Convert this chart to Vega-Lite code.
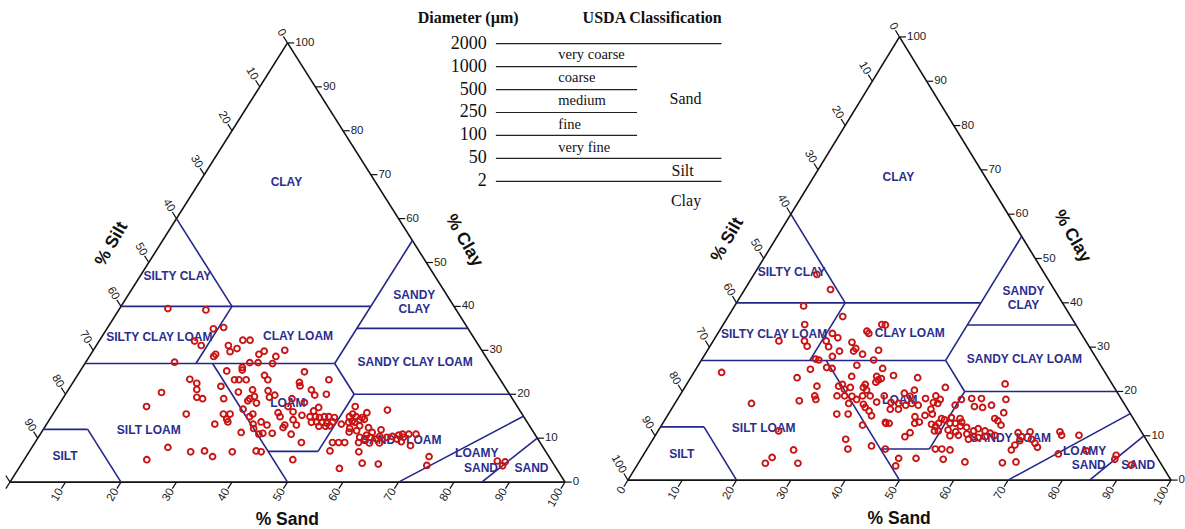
{
  "$schema": "https://vega.github.io/schema/vega-lite/v6.json",
  "width": 1185,
  "height": 529,
  "padding": 0,
  "autosize": {"type": "fit", "contains": "padding"},
  "config": {"view": {"stroke": null}},
  "datasets": {
    "edges": [
      {"s1": 0, "c1": 0, "s2": 100, "c2": 0, "kind": "frame"},
      {"s1": 100, "c1": 0, "s2": 0, "c2": 100, "kind": "frame"},
      {"s1": 0, "c1": 100, "s2": 0, "c2": 0, "kind": "frame"},
      {"s1": 0, "c1": 60, "s2": 20, "c2": 40, "kind": "boundary"},
      {"s1": 0, "c1": 40, "s2": 45, "c2": 40, "kind": "boundary"},
      {"s1": 45, "c1": 55, "s2": 45, "c2": 27, "kind": "boundary"},
      {"s1": 45, "c1": 35, "s2": 65, "c2": 35, "kind": "boundary"},
      {"s1": 0, "c1": 27, "s2": 45, "c2": 27, "kind": "boundary"},
      {"s1": 20, "c1": 40, "s2": 20, "c2": 27, "kind": "boundary"},
      {"s1": 52, "c1": 20, "s2": 80, "c2": 20, "kind": "boundary"},
      {"s1": 45, "c1": 27, "s2": 52, "c2": 20, "kind": "boundary"},
      {"s1": 52, "c1": 20, "s2": 52, "c2": 7, "kind": "boundary"},
      {"s1": 43, "c1": 7, "s2": 52, "c2": 7, "kind": "boundary"},
      {"s1": 23, "c1": 27, "s2": 50, "c2": 0, "kind": "boundary"},
      {"s1": 0, "c1": 12, "s2": 8, "c2": 12, "kind": "boundary"},
      {"s1": 8, "c1": 12, "s2": 20, "c2": 0, "kind": "boundary"},
      {"s1": 70, "c1": 0, "s2": 85, "c2": 15, "kind": "boundary"},
      {"s1": 85, "c1": 0, "s2": 90, "c2": 10, "kind": "boundary"}
    ],
    "ticks": [
      {"axis": "sand", "v": 0}, {"axis": "sand", "v": 10}, {"axis": "sand", "v": 20}, {"axis": "sand", "v": 30},
      {"axis": "sand", "v": 40}, {"axis": "sand", "v": 50}, {"axis": "sand", "v": 60}, {"axis": "sand", "v": 70},
      {"axis": "sand", "v": 80}, {"axis": "sand", "v": 90}, {"axis": "sand", "v": 100},
      {"axis": "silt", "v": 0}, {"axis": "silt", "v": 10}, {"axis": "silt", "v": 20}, {"axis": "silt", "v": 30},
      {"axis": "silt", "v": 40}, {"axis": "silt", "v": 50}, {"axis": "silt", "v": 60}, {"axis": "silt", "v": 70},
      {"axis": "silt", "v": 80}, {"axis": "silt", "v": 90}, {"axis": "silt", "v": 100},
      {"axis": "clay", "v": 0}, {"axis": "clay", "v": 10}, {"axis": "clay", "v": 20}, {"axis": "clay", "v": 30},
      {"axis": "clay", "v": 40}, {"axis": "clay", "v": 50}, {"axis": "clay", "v": 60}, {"axis": "clay", "v": 70},
      {"axis": "clay", "v": 80}, {"axis": "clay", "v": 90}, {"axis": "clay", "v": 100}
    ],
    "regions": [
      {"label": "CLAY", "sand": 15.6, "clay": 68.4},
      {"label": "SILTY CLAY", "sand": 6.7, "clay": 46.9},
      {"label": "SANDY", "sand": 51.5, "clay": 42.7},
      {"label": "CLAY", "sand": 53.1, "clay": 39.5},
      {"label": "SILTY CLAY LOAM", "sand": 10.4, "clay": 33.0},
      {"label": "CLAY LOAM", "sand": 35.3, "clay": 33.2},
      {"label": "SANDY CLAY LOAM", "sand": 59.3, "clay": 27.4},
      {"label": "LOAM", "sand": 41.0, "clay": 18.1},
      {"label": "SILT LOAM", "sand": 19.1, "clay": 11.8},
      {"label": "SILT", "sand": 6.9, "clay": 6.0},
      {"label": "SANDY LOAM", "sand": 65.7, "clay": 9.6},
      {"label": "LOAMY", "sand": 80.8, "clay": 6.6},
      {"label": "SAND", "sand": 83.2, "clay": 3.3},
      {"label": "SAND", "sand": 92.3, "clay": 3.3}
    ],
    "titles": [
      {"axis": "sand", "label": "% Sand", "sand": 54.3, "clay": -8.7},
      {"axis": "silt", "label": "% Silt", "sand": -8.8, "clay": 54.2},
      {"axis": "clay", "label": "% Clay", "sand": 54.3, "clay": 55.0}
    ],
    "soilA": [
      {"sand": 8.7, "clay": 39.5}, {"sand": 15.7, "clay": 39.2}, {"sand": 19.2, "clay": 34.9}, {"sand": 20.9, "clay": 35.2},
      {"sand": 17.2, "clay": 32.1}, {"sand": 18.9, "clay": 31.1}, {"sand": 23.8, "clay": 31.1}, {"sand": 25.8, "clay": 32.3},
      {"sand": 27.1, "clay": 32.3}, {"sand": 24.8, "clay": 29.7}, {"sand": 25.7, "clay": 30.4}, {"sand": 30.9, "clay": 29.8},
      {"sand": 30.3, "clay": 29.1}, {"sand": 34.5, "clay": 30.0}, {"sand": 22.4, "clay": 28.6}, {"sand": 22.5, "clay": 29.1},
      {"sand": 33.6, "clay": 28.6}, {"sand": 16.0, "clay": 27.3}, {"sand": 29.6, "clay": 27.2}, {"sand": 31.1, "clay": 27.2},
      {"sand": 33.8, "clay": 27.0}, {"sand": 28.8, "clay": 26.1}, {"sand": 29.1, "clay": 25.5}, {"sand": 26.4, "clay": 25.3},
      {"sand": 20.7, "clay": 23.4}, {"sand": 22.4, "clay": 22.5}, {"sand": 28.8, "clay": 23.3}, {"sand": 29.6, "clay": 23.3},
      {"sand": 30.9, "clay": 23.3}, {"sand": 33.7, "clay": 24.3}, {"sand": 34.8, "clay": 23.3}, {"sand": 27.1, "clay": 21.8},
      {"sand": 23.1, "clay": 21.1}, {"sand": 30.9, "clay": 20.5}, {"sand": 33.2, "clay": 21.0}, {"sand": 36.1, "clay": 20.8},
      {"sand": 17.1, "clay": 20.4}, {"sand": 24.0, "clay": 19.3}, {"sand": 25.2, "clay": 19.0}, {"sand": 29.0, "clay": 19.0},
      {"sand": 33.7, "clay": 19.0}, {"sand": 34.3, "clay": 19.5}, {"sand": 37.1, "clay": 19.3}, {"sand": 37.8, "clay": 19.8},
      {"sand": 33.6, "clay": 18.5}, {"sand": 35.4, "clay": 18.0}, {"sand": 16.0, "clay": 17.2}, {"sand": 33.7, "clay": 16.6},
      {"sand": 24.0, "clay": 15.5}, {"sand": 30.7, "clay": 15.5}, {"sand": 31.9, "clay": 15.5}, {"sand": 31.9, "clay": 14.3},
      {"sand": 32.4, "clay": 13.7}, {"sand": 35.7, "clay": 14.9}, {"sand": 36.0, "clay": 15.5}, {"sand": 40.4, "clay": 15.8},
      {"sand": 41.2, "clay": 14.9}, {"sand": 30.3, "clay": 13.2}, {"sand": 37.2, "clay": 13.2}, {"sand": 38.4, "clay": 13.7},
      {"sand": 39.8, "clay": 13.0}, {"sand": 43.0, "clay": 12.4}, {"sand": 43.0, "clay": 13.0}, {"sand": 36.0, "clay": 11.3},
      {"sand": 37.8, "clay": 12.2}, {"sand": 39.4, "clay": 10.9}, {"sand": 40.0, "clay": 11.1}, {"sand": 41.7, "clay": 11.1},
      {"sand": 24.5, "clay": 7.9}, {"sand": 29.1, "clay": 6.9}, {"sand": 31.5, "clay": 7.1}, {"sand": 33.6, "clay": 5.8},
      {"sand": 36.6, "clay": 6.9}, {"sand": 40.8, "clay": 7.1}, {"sand": 41.8, "clay": 6.9}, {"sand": 22.1, "clay": 5.1},
      {"sand": 48.4, "clay": 5.1},
      {"sand": 40.5, "clay": 25.1}, {"sand": 45.8, "clay": 23.3}, {"sand": 40.8, "clay": 22.7}, {"sand": 41.3, "clay": 21.9},
      {"sand": 43.8, "clay": 21.0}, {"sand": 45.0, "clay": 19.8}, {"sand": 47.0, "clay": 20.0}, {"sand": 41.3, "clay": 19.0},
      {"sand": 41.5, "clay": 17.2}, {"sand": 44.0, "clay": 18.1}, {"sand": 47.1, "clay": 17.0}, {"sand": 46.6, "clay": 16.2},
      {"sand": 43.0, "clay": 16.0}, {"sand": 45.0, "clay": 15.2}, {"sand": 46.6, "clay": 14.9}, {"sand": 47.6, "clay": 14.9},
      {"sand": 48.4, "clay": 14.7}, {"sand": 49.2, "clay": 14.9}, {"sand": 50.0, "clay": 14.9}, {"sand": 51.1, "clay": 14.7},
      {"sand": 47.5, "clay": 13.6}, {"sand": 48.4, "clay": 13.7}, {"sand": 49.4, "clay": 13.6}, {"sand": 50.4, "clay": 13.4},
      {"sand": 51.3, "clay": 13.7}, {"sand": 49.3, "clay": 12.7}, {"sand": 50.5, "clay": 12.7}, {"sand": 51.2, "clay": 12.8},
      {"sand": 53.1, "clay": 13.2}, {"sand": 43.9, "clay": 14.2}, {"sand": 45.1, "clay": 13.0}, {"sand": 45.2, "clay": 10.9},
      {"sand": 48.0, "clay": 9.0}, {"sand": 53.6, "clay": 17.2}, {"sand": 56.4, "clay": 15.8}, {"sand": 56.1, "clay": 14.7},
      {"sand": 59.8, "clay": 16.4}, {"sand": 53.7, "clay": 14.9}, {"sand": 54.0, "clay": 15.5}, {"sand": 54.9, "clay": 14.9},
      {"sand": 54.7, "clay": 13.9}, {"sand": 54.2, "clay": 13.6}, {"sand": 55.3, "clay": 13.6}, {"sand": 55.9, "clay": 14.2},
      {"sand": 56.7, "clay": 14.3}, {"sand": 56.6, "clay": 12.8}, {"sand": 55.1, "clay": 12.2}, {"sand": 58.4, "clay": 12.4},
      {"sand": 55.4, "clay": 11.4}, {"sand": 56.6, "clay": 11.7}, {"sand": 58.9, "clay": 10.7}, {"sand": 59.6, "clay": 11.3},
      {"sand": 60.9, "clay": 11.9}, {"sand": 57.9, "clay": 10.2}, {"sand": 59.0, "clay": 9.8}, {"sand": 59.8, "clay": 10.2},
      {"sand": 61.1, "clay": 9.8}, {"sand": 61.4, "clay": 10.4}, {"sand": 62.8, "clay": 10.2}, {"sand": 63.7, "clay": 10.4},
      {"sand": 64.7, "clay": 10.7}, {"sand": 65.3, "clay": 10.9}, {"sand": 66.4, "clay": 10.9}, {"sand": 67.7, "clay": 10.9},
      {"sand": 64.8, "clay": 9.8}, {"sand": 65.8, "clay": 10.2}, {"sand": 53.6, "clay": 9.0}, {"sand": 54.7, "clay": 9.0},
      {"sand": 55.8, "clay": 9.0}, {"sand": 58.3, "clay": 9.0}, {"sand": 60.3, "clay": 8.9}, {"sand": 62.1, "clay": 8.9},
      {"sand": 65.9, "clay": 9.2}, {"sand": 68.0, "clay": 8.3}, {"sand": 54.1, "clay": 7.1}, {"sand": 59.4, "clay": 6.9},
      {"sand": 57.8, "clay": 3.1}, {"sand": 61.3, "clay": 4.3}, {"sand": 64.3, "clay": 4.1}, {"sand": 72.6, "clay": 5.8},
      {"sand": 73.2, "clay": 3.8}, {"sand": 85.4, "clay": 4.8}, {"sand": 86.9, "clay": 4.6}, {"sand": 86.9, "clay": 3.7}
    ],
    "soilB": [
      {"sand": 11.6, "clay": 46.4}, {"sand": 15.8, "clay": 43.0}, {"sand": 12.7, "clay": 39.3}, {"sand": 21.1, "clay": 36.9},
      {"sand": 15.0, "clay": 35.1}, {"sand": 12.1, "clay": 31.4}, {"sand": 16.8, "clay": 31.4}, {"sand": 17.9, "clay": 30.2},
      {"sand": 21.1, "clay": 33.1}, {"sand": 22.6, "clay": 32.1}, {"sand": 20.8, "clay": 31.4}, {"sand": 21.9, "clay": 30.1},
      {"sand": 25.7, "clay": 31.1}, {"sand": 27.2, "clay": 33.6}, {"sand": 27.8, "clay": 33.1}, {"sand": 29.2, "clay": 35.1},
      {"sand": 29.9, "clay": 35.0}, {"sand": 27.1, "clay": 29.7}, {"sand": 27.0, "clay": 29.1}, {"sand": 24.4, "clay": 29.1},
      {"sand": 29.0, "clay": 28.4}, {"sand": 31.5, "clay": 29.3}, {"sand": 23.7, "clay": 27.9}, {"sand": 20.9, "clay": 27.3},
      {"sand": 21.6, "clay": 27.1}, {"sand": 31.7, "clay": 27.1}, {"sand": 29.2, "clay": 25.9}, {"sand": 23.9, "clay": 25.4},
      {"sand": 25.0, "clay": 25.2}, {"sand": 21.1, "clay": 25.0}, {"sand": 34.3, "clay": 25.2}, {"sand": 29.5, "clay": 23.4},
      {"sand": 19.6, "clay": 23.1}, {"sand": 34.1, "clay": 23.4}, {"sand": 34.8, "clay": 22.6}, {"sand": 35.2, "clay": 22.9},
      {"sand": 34.6, "clay": 22.1}, {"sand": 32.9, "clay": 21.6}, {"sand": 28.2, "clay": 21.2}, {"sand": 28.7, "clay": 21.6},
      {"sand": 29.6, "clay": 20.5}, {"sand": 24.2, "clay": 21.2}, {"sand": 30.5, "clay": 20.9}, {"sand": 32.9, "clay": 20.9},
      {"sand": 33.8, "clay": 20.3}, {"sand": 24.9, "clay": 19.0}, {"sand": 25.5, "clay": 18.2}, {"sand": 29.0, "clay": 19.0},
      {"sand": 30.4, "clay": 19.0}, {"sand": 31.8, "clay": 18.9}, {"sand": 33.0, "clay": 18.2}, {"sand": 33.7, "clay": 19.0},
      {"sand": 35.1, "clay": 19.0}, {"sand": 22.6, "clay": 17.9}, {"sand": 14.1, "clay": 17.3}, {"sand": 37.7, "clay": 19.0},
      {"sand": 32.0, "clay": 17.3}, {"sand": 34.8, "clay": 17.1}, {"sand": 35.5, "clay": 16.4}, {"sand": 36.6, "clay": 15.6},
      {"sand": 37.6, "clay": 14.5}, {"sand": 37.0, "clay": 17.6}, {"sand": 31.0, "clay": 14.9}, {"sand": 33.1, "clay": 14.9},
      {"sand": 40.9, "clay": 13.0}, {"sand": 37.0, "clay": 12.4}, {"sand": 22.2, "clay": 11.1}, {"sand": 35.5, "clay": 9.2},
      {"sand": 37.0, "clay": 7.0}, {"sand": 41.0, "clay": 7.7}, {"sand": 27.1, "clay": 6.8}, {"sand": 24.0, "clay": 5.1},
      {"sand": 23.4, "clay": 3.8}, {"sand": 29.4, "clay": 3.8}, {"sand": 43.9, "clay": 7.0}, {"sand": 5.1, "clay": 24.3},
      {"sand": 37.1, "clay": 23.6}, {"sand": 41.8, "clay": 23.1}, {"sand": 48.0, "clay": 20.9}, {"sand": 42.6, "clay": 20.3},
      {"sand": 41.1, "clay": 19.6}, {"sand": 42.5, "clay": 18.9}, {"sand": 45.6, "clay": 18.4}, {"sand": 47.2, "clay": 19.0},
      {"sand": 48.4, "clay": 18.2}, {"sand": 48.4, "clay": 17.3}, {"sand": 47.5, "clay": 17.5}, {"sand": 39.7, "clay": 17.5},
      {"sand": 41.2, "clay": 17.3}, {"sand": 42.7, "clay": 16.9}, {"sand": 43.6, "clay": 17.3}, {"sand": 45.0, "clay": 16.9},
      {"sand": 40.3, "clay": 16.0}, {"sand": 41.8, "clay": 16.0}, {"sand": 51.8, "clay": 16.9}, {"sand": 47.8, "clay": 16.0},
      {"sand": 45.7, "clay": 14.3}, {"sand": 47.4, "clay": 14.6}, {"sand": 48.6, "clay": 14.9}, {"sand": 50.8, "clay": 13.9},
      {"sand": 52.5, "clay": 14.1}, {"sand": 54.2, "clay": 13.9}, {"sand": 41.1, "clay": 12.8}, {"sand": 41.7, "clay": 12.8},
      {"sand": 46.4, "clay": 12.8}, {"sand": 47.1, "clay": 13.1}, {"sand": 49.6, "clay": 12.6}, {"sand": 50.6, "clay": 12.1},
      {"sand": 50.8, "clay": 12.8}, {"sand": 51.5, "clay": 13.6}, {"sand": 52.9, "clay": 12.8}, {"sand": 53.9, "clay": 12.8},
      {"sand": 54.9, "clay": 13.1}, {"sand": 55.1, "clay": 12.2}, {"sand": 50.9, "clay": 11.1}, {"sand": 51.6, "clay": 11.1},
      {"sand": 56.4, "clay": 11.9}, {"sand": 58.1, "clay": 11.1}, {"sand": 58.7, "clay": 11.6}, {"sand": 60.2, "clay": 11.1},
      {"sand": 61.4, "clay": 10.6}, {"sand": 62.5, "clay": 10.1}, {"sand": 46.6, "clay": 10.7}, {"sand": 46.1, "clay": 9.8},
      {"sand": 53.3, "clay": 11.3}, {"sand": 54.9, "clay": 10.9}, {"sand": 54.3, "clay": 10.0}, {"sand": 55.8, "clay": 10.1},
      {"sand": 57.2, "clay": 10.4}, {"sand": 58.7, "clay": 9.8}, {"sand": 58.1, "clay": 9.2}, {"sand": 59.7, "clay": 9.6},
      {"sand": 60.9, "clay": 9.8}, {"sand": 52.3, "clay": 18.2}, {"sand": 54.1, "clay": 18.4}, {"sand": 55.9, "clay": 18.4},
      {"sand": 55.5, "clay": 16.6}, {"sand": 57.1, "clay": 16.4}, {"sand": 58.5, "clay": 16.9}, {"sand": 58.6, "clay": 21.7},
      {"sand": 60.5, "clay": 18.2}, {"sand": 61.6, "clay": 15.2}, {"sand": 60.6, "clay": 13.9}, {"sand": 61.4, "clay": 13.4},
      {"sand": 62.5, "clay": 12.4}, {"sand": 66.5, "clay": 10.7}, {"sand": 67.6, "clay": 9.8}, {"sand": 67.7, "clay": 8.9},
      {"sand": 67.3, "clay": 7.9}, {"sand": 67.2, "clay": 6.8}, {"sand": 68.6, "clay": 10.9}, {"sand": 69.7, "clay": 9.2},
      {"sand": 71.7, "clay": 7.4}, {"sand": 70.8, "clay": 8.3}, {"sand": 74.1, "clay": 10.9}, {"sand": 74.8, "clay": 10.1},
      {"sand": 78.0, "clay": 10.1}, {"sand": 76.3, "clay": 5.9}, {"sand": 81.1, "clay": 6.6}, {"sand": 87.1, "clay": 5.6},
      {"sand": 87.3, "clay": 4.7}, {"sand": 47.4, "clay": 4.9}, {"sand": 47.7, "clay": 3.2}, {"sand": 50.6, "clay": 4.9},
      {"sand": 53.1, "clay": 7.0}, {"sand": 54.3, "clay": 7.0}, {"sand": 55.9, "clay": 6.8}, {"sand": 55.7, "clay": 4.7},
      {"sand": 60.0, "clay": 4.1}, {"sand": 67.0, "clay": 3.9}, {"sand": 69.4, "clay": 4.1}, {"sand": 91.0, "clay": 3.4}
    ],
    "gradeLines": [
      {"limit": "2000", "row": 0, "u": 0, "end": 100},
      {"limit": "1000", "row": 1, "u": 0, "end": 62.6},
      {"limit": "500", "row": 2, "u": 0, "end": 62.6},
      {"limit": "250", "row": 3, "u": 0, "end": 62.6},
      {"limit": "100", "row": 4, "u": 0, "end": 62.6},
      {"limit": "50", "row": 5, "u": 0, "end": 100},
      {"limit": "2", "row": 6, "u": 0, "end": 100}
    ],
    "gradeText": [
      {"text": "Diameter (µm)", "u": -12.3, "row": -1.1, "role": "header"},
      {"text": "USDA Classification", "u": 69.3, "row": -1.1, "role": "header"},
      {"text": "very coarse", "u": 27.7, "row": 0.49, "role": "sub"},
      {"text": "coarse", "u": 27.7, "row": 1.5, "role": "sub"},
      {"text": "medium", "u": 27.7, "row": 2.48, "role": "sub"},
      {"text": "fine", "u": 27.7, "row": 3.56, "role": "sub"},
      {"text": "very fine", "u": 27.7, "row": 4.53, "role": "sub"},
      {"text": "Sand", "u": 84.1, "row": 2.4, "role": "class"},
      {"text": "Silt", "u": 82.8, "row": 5.57, "role": "class"},
      {"text": "Clay", "u": 84.3, "row": 6.84, "role": "class"}
    ]
  },
  "layer": [
    {
      "encoding": {
        "x": {"field": "px", "type": "quantitative", "scale": {"domain": [-1.799, 211.33], "nice": false, "zero": false}, "axis": null},
        "y": {"field": "py", "type": "quantitative", "scale": {"domain": [-10.455, 109.773], "nice": false, "zero": false}, "axis": null}
      },
      "layer": [
        {
          "data": {"name": "edges"},
          "transform": [
            {"calculate": "datum.s1 + datum.c1 / 2", "as": "px"},
            {"calculate": "datum.c1", "as": "py"},
            {"calculate": "datum.s2 + datum.c2 / 2", "as": "px2"},
            {"calculate": "datum.c2", "as": "py2"}
          ],
          "mark": {"type": "rule", "strokeWidth": 1.6},
          "encoding": {
            "x2": {"field": "px2"},
            "y2": {"field": "py2"},
            "color": {"field": "kind", "type": "nominal", "scale": {"domain": ["frame", "boundary"], "range": ["#111111", "#23278a"]}, "legend": null}
          }
        },
        {
          "data": {"name": "ticks"},
          "transform": [
            {"calculate": "datum.axis == 'sand' ? datum.v : datum.axis == 'silt' ? 0 : 100 - datum.v", "as": "s0"},
            {"calculate": "datum.axis == 'sand' ? 0 : datum.axis == 'silt' ? 100 - datum.v : datum.v", "as": "c0"},
            {"calculate": "datum.axis == 'sand' ? datum.v : datum.axis == 'silt' ? -1.5 : 101.2 - datum.v", "as": "s1"},
            {"calculate": "datum.axis == 'sand' ? -1.5 : datum.axis == 'silt' ? 101.5 - datum.v : datum.v", "as": "c1"},
            {"calculate": "datum.s0 + datum.c0 / 2", "as": "px"},
            {"calculate": "datum.c0", "as": "py"},
            {"calculate": "datum.s1 + datum.c1 / 2", "as": "px2"},
            {"calculate": "datum.c1", "as": "py2"}
          ],
          "mark": {"type": "rule", "strokeWidth": 1.2, "color": "#111111"},
          "encoding": {"x2": {"field": "px2"}, "y2": {"field": "py2"}}
        },
        {
          "data": {"name": "ticks"},
          "transform": [
            {"filter": "datum.axis == 'sand' && datum.v > 0"},
            {"calculate": "datum.v - 0.75", "as": "px"},
            {"calculate": "-1.5", "as": "py"}
          ],
          "mark": {"type": "text", "angle": 300, "align": "right", "baseline": "middle", "dx": -1, "font": "Liberation Sans", "fontSize": 11.5, "color": "#222222"},
          "encoding": {"text": {"field": "v", "type": "quantitative"}}
        },
        {
          "data": {"name": "ticks"},
          "transform": [
            {"filter": "datum.axis == 'silt' && datum.v < 100"},
            {"calculate": "-1.5 + (101.5 - datum.v) / 2", "as": "px"},
            {"calculate": "101.5 - datum.v", "as": "py"}
          ],
          "mark": {"type": "text", "angle": 60, "align": "right", "baseline": "middle", "dx": -1, "font": "Liberation Sans", "fontSize": 11.5, "color": "#222222"},
          "encoding": {"text": {"field": "v", "type": "quantitative"}}
        },
        {
          "data": {"name": "ticks"},
          "transform": [
            {"filter": "datum.axis == 'clay'"},
            {"calculate": "101.2 - datum.v / 2", "as": "px"},
            {"calculate": "datum.v", "as": "py"}
          ],
          "mark": {"type": "text", "align": "left", "baseline": "middle", "dx": 1, "font": "Liberation Sans", "fontSize": 11.5, "color": "#222222"},
          "encoding": {"text": {"field": "v", "type": "quantitative"}}
        },
        {
          "data": {"name": "regions"},
          "transform": [
            {"calculate": "datum.sand + datum.clay / 2", "as": "px"},
            {"calculate": "datum.clay", "as": "py"}
          ],
          "mark": {"type": "text", "align": "center", "baseline": "middle", "font": "Liberation Sans", "fontSize": 12, "fontWeight": "bold", "color": "#2a2e8e"},
          "encoding": {"text": {"field": "label"}}
        },
        {
          "data": {"name": "titles"},
          "transform": [
            {"filter": "datum.axis == 'sand'"},
            {"calculate": "datum.sand + datum.clay / 2", "as": "px"},
            {"calculate": "datum.clay", "as": "py"}
          ],
          "mark": {"type": "text", "align": "center", "baseline": "middle", "font": "Liberation Sans", "fontSize": 17.5, "fontWeight": "bold", "color": "#111111"},
          "encoding": {"text": {"field": "label"}}
        },
        {
          "data": {"name": "titles"},
          "transform": [
            {"filter": "datum.axis == 'silt'"},
            {"calculate": "datum.sand + datum.clay / 2", "as": "px"},
            {"calculate": "datum.clay", "as": "py"}
          ],
          "mark": {"type": "text", "angle": 300, "align": "center", "baseline": "middle", "font": "Liberation Sans", "fontSize": 17.5, "fontWeight": "bold", "color": "#111111"},
          "encoding": {"text": {"field": "label"}}
        },
        {
          "data": {"name": "titles"},
          "transform": [
            {"filter": "datum.axis == 'clay'"},
            {"calculate": "datum.sand + datum.clay / 2", "as": "px"},
            {"calculate": "datum.clay", "as": "py"}
          ],
          "mark": {"type": "text", "angle": 60, "align": "center", "baseline": "middle", "font": "Liberation Sans", "fontSize": 17.5, "fontWeight": "bold", "color": "#111111"},
          "encoding": {"text": {"field": "label"}}
        },
        {
          "data": {"name": "soilA"},
          "transform": [
            {"calculate": "datum.sand + datum.clay / 2", "as": "px"},
            {"calculate": "datum.clay", "as": "py"}
          ],
          "mark": {"type": "point", "shape": "circle", "filled": false, "size": 34, "strokeWidth": 1.9, "color": "#c81414", "opacity": 1}
        }
      ]
    },
    {
      "encoding": {
        "x": {"field": "px", "type": "quantitative", "scale": {"domain": [-115.625, 102.206], "nice": false, "zero": false}, "axis": null},
        "y": {"field": "py", "type": "quantitative", "scale": {"domain": [-10.811, 108.333], "nice": false, "zero": false}, "axis": null}
      },
      "layer": [
        {
          "data": {"name": "edges"},
          "transform": [
            {"calculate": "datum.s1 + datum.c1 / 2", "as": "px"},
            {"calculate": "datum.c1", "as": "py"},
            {"calculate": "datum.s2 + datum.c2 / 2", "as": "px2"},
            {"calculate": "datum.c2", "as": "py2"}
          ],
          "mark": {"type": "rule", "strokeWidth": 1.6},
          "encoding": {
            "x2": {"field": "px2"},
            "y2": {"field": "py2"},
            "color": {"field": "kind", "type": "nominal", "scale": {"domain": ["frame", "boundary"], "range": ["#111111", "#23278a"]}, "legend": null}
          }
        },
        {
          "data": {"name": "ticks"},
          "transform": [
            {"calculate": "datum.axis == 'sand' ? datum.v : datum.axis == 'silt' ? 0 : 100 - datum.v", "as": "s0"},
            {"calculate": "datum.axis == 'sand' ? 0 : datum.axis == 'silt' ? 100 - datum.v : datum.v", "as": "c0"},
            {"calculate": "datum.axis == 'sand' ? datum.v : datum.axis == 'silt' ? -1.5 : 101.2 - datum.v", "as": "s1"},
            {"calculate": "datum.axis == 'sand' ? -1.5 : datum.axis == 'silt' ? 101.5 - datum.v : datum.v", "as": "c1"},
            {"calculate": "datum.s0 + datum.c0 / 2", "as": "px"},
            {"calculate": "datum.c0", "as": "py"},
            {"calculate": "datum.s1 + datum.c1 / 2", "as": "px2"},
            {"calculate": "datum.c1", "as": "py2"}
          ],
          "mark": {"type": "rule", "strokeWidth": 1.2, "color": "#111111"},
          "encoding": {"x2": {"field": "px2"}, "y2": {"field": "py2"}}
        },
        {
          "data": {"name": "ticks"},
          "transform": [
            {"filter": "datum.axis == 'sand'"},
            {"calculate": "datum.v - 0.75", "as": "px"},
            {"calculate": "-1.5", "as": "py"}
          ],
          "mark": {"type": "text", "angle": 300, "align": "right", "baseline": "middle", "dx": -1, "font": "Liberation Sans", "fontSize": 11.5, "color": "#222222"},
          "encoding": {"text": {"field": "v", "type": "quantitative"}}
        },
        {
          "data": {"name": "ticks"},
          "transform": [
            {"filter": "datum.axis == 'silt'"},
            {"calculate": "-1.5 + (101.5 - datum.v) / 2", "as": "px"},
            {"calculate": "101.5 - datum.v", "as": "py"}
          ],
          "mark": {"type": "text", "angle": 60, "align": "right", "baseline": "middle", "dx": -1, "font": "Liberation Sans", "fontSize": 11.5, "color": "#222222"},
          "encoding": {"text": {"field": "v", "type": "quantitative"}}
        },
        {
          "data": {"name": "ticks"},
          "transform": [
            {"filter": "datum.axis == 'clay'"},
            {"calculate": "101.2 - datum.v / 2", "as": "px"},
            {"calculate": "datum.v", "as": "py"}
          ],
          "mark": {"type": "text", "align": "left", "baseline": "middle", "dx": 1, "font": "Liberation Sans", "fontSize": 11.5, "color": "#222222"},
          "encoding": {"text": {"field": "v", "type": "quantitative"}}
        },
        {
          "data": {"name": "regions"},
          "transform": [
            {"calculate": "datum.sand + datum.clay / 2", "as": "px"},
            {"calculate": "datum.clay", "as": "py"}
          ],
          "mark": {"type": "text", "align": "center", "baseline": "middle", "font": "Liberation Sans", "fontSize": 12, "fontWeight": "bold", "color": "#2a2e8e"},
          "encoding": {"text": {"field": "label"}}
        },
        {
          "data": {"name": "titles"},
          "transform": [
            {"filter": "datum.axis == 'sand'"},
            {"calculate": "datum.sand + datum.clay / 2", "as": "px"},
            {"calculate": "datum.clay", "as": "py"}
          ],
          "mark": {"type": "text", "align": "center", "baseline": "middle", "font": "Liberation Sans", "fontSize": 17.5, "fontWeight": "bold", "color": "#111111"},
          "encoding": {"text": {"field": "label"}}
        },
        {
          "data": {"name": "titles"},
          "transform": [
            {"filter": "datum.axis == 'silt'"},
            {"calculate": "datum.sand + datum.clay / 2", "as": "px"},
            {"calculate": "datum.clay", "as": "py"}
          ],
          "mark": {"type": "text", "angle": 300, "align": "center", "baseline": "middle", "font": "Liberation Sans", "fontSize": 17.5, "fontWeight": "bold", "color": "#111111"},
          "encoding": {"text": {"field": "label"}}
        },
        {
          "data": {"name": "titles"},
          "transform": [
            {"filter": "datum.axis == 'clay'"},
            {"calculate": "datum.sand + datum.clay / 2", "as": "px"},
            {"calculate": "datum.clay", "as": "py"}
          ],
          "mark": {"type": "text", "angle": 60, "align": "center", "baseline": "middle", "font": "Liberation Sans", "fontSize": 17.5, "fontWeight": "bold", "color": "#111111"},
          "encoding": {"text": {"field": "label"}}
        },
        {
          "data": {"name": "soilB"},
          "transform": [
            {"calculate": "datum.sand + datum.clay / 2", "as": "px"},
            {"calculate": "datum.clay", "as": "py"}
          ],
          "mark": {"type": "point", "shape": "circle", "filled": false, "size": 34, "strokeWidth": 1.9, "color": "#c81414", "opacity": 1}
        }
      ]
    },
    {
      "encoding": {
        "x": {"field": "u", "type": "quantitative", "scale": {"domain": [-219.8, 304.6], "nice": false, "zero": false}, "axis": null},
        "y": {"field": "row", "type": "quantitative", "scale": {"domain": [-1.9, 21.1], "nice": false, "zero": false, "reverse": true}, "axis": null}
      },
      "layer": [
        {
          "data": {"name": "gradeLines"},
          "mark": {"type": "rule", "strokeWidth": 1.2, "color": "#222222"},
          "encoding": {"x2": {"field": "end"}}
        },
        {
          "data": {"name": "gradeLines"},
          "mark": {"type": "text", "align": "right", "baseline": "middle", "dx": -9, "font": "Liberation Serif", "fontSize": 18, "color": "#111111"},
          "encoding": {"text": {"field": "limit"}}
        },
        {
          "data": {"name": "gradeText"},
          "transform": [{"filter": "datum.role == 'header'"}],
          "mark": {"type": "text", "align": "center", "baseline": "middle", "font": "Liberation Serif", "fontSize": 16, "fontWeight": "bold", "color": "#111111"},
          "encoding": {"text": {"field": "text"}}
        },
        {
          "data": {"name": "gradeText"},
          "transform": [{"filter": "datum.role == 'sub'"}],
          "mark": {"type": "text", "align": "left", "baseline": "middle", "font": "Liberation Serif", "fontSize": 14.5, "color": "#111111"},
          "encoding": {"text": {"field": "text"}}
        },
        {
          "data": {"name": "gradeText"},
          "transform": [{"filter": "datum.role == 'class'"}],
          "mark": {"type": "text", "align": "center", "baseline": "middle", "font": "Liberation Serif", "fontSize": 16, "color": "#111111"},
          "encoding": {"text": {"field": "text"}}
        }
      ]
    }
  ],
  "resolve": {"scale": {"x": "independent", "y": "independent"}}
}
